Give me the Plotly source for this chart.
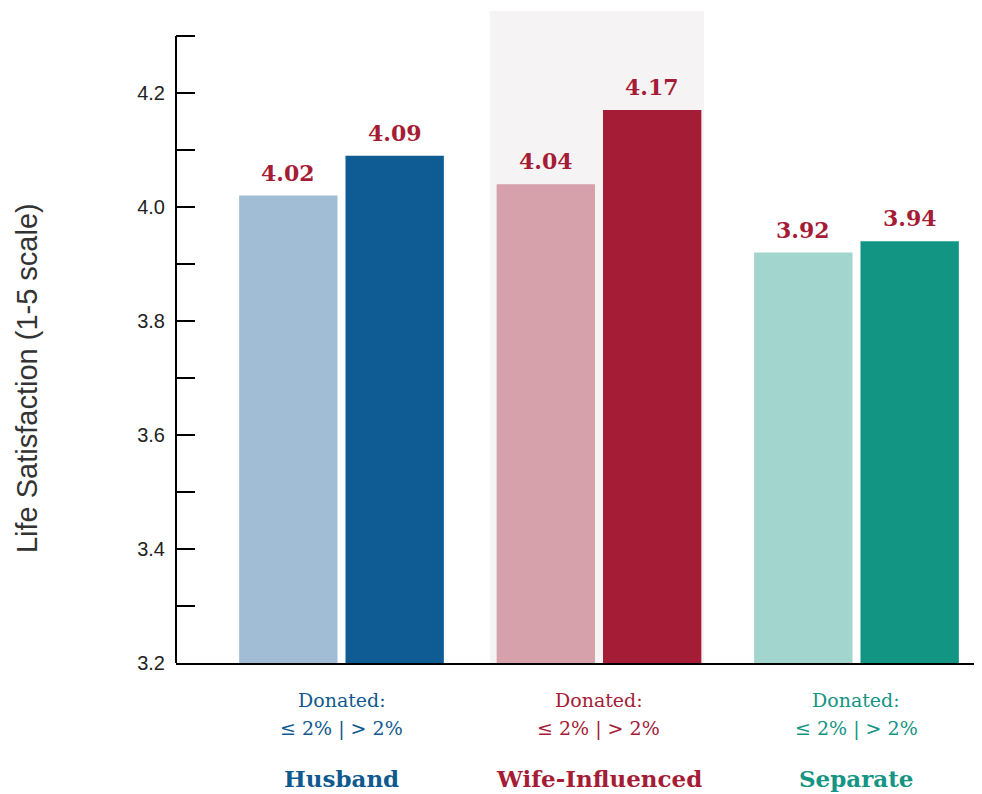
import plotly.graph_objects as go

categories = ["Husband", "Wife-Influenced", "Separate"]
low_values = [4.02, 4.04, 3.92]    # Donated <= 2%
high_values = [4.09, 4.17, 3.94]   # Donated > 2%
low_colors = ["#a1bdd5", "#d7a1ab", "#a2d5ce"]
high_colors = ["#0f5b94", "#a51c36", "#129683"]
text_colors = ["#10598f", "#a51c36", "#149483"]
value_color = "#a51c36"
y_tickvals = [3.2, 3.3, 3.4, 3.5, 3.6, 3.7, 3.8, 3.9, 4.0, 4.1, 4.2, 4.3]
y_ticktext = ["3.2", "", "3.4", "", "3.6", "", "3.8", "", "4.0", "", "4.2", ""]

xpos = list(range(len(categories)))
BW = 0.382
serif = "DejaVu Serif"

fig = go.Figure()
fig.add_trace(go.Bar(x=xpos, y=low_values, base=0, width=BW, offset=-BW - 0.0155,
                     marker=dict(color=low_colors, line=dict(width=0)), showlegend=False,
                     hoverinfo="skip"))
fig.add_trace(go.Bar(x=xpos, y=high_values, base=0, width=BW, offset=0.0155,
                     marker=dict(color=high_colors, line=dict(width=0)), showlegend=False,
                     hoverinfo="skip"))

annotations = []
for i, (lv, hv) in enumerate(zip(low_values, high_values)):
    annotations.append(dict(x=i - BW / 2 - 0.0155, y=lv, xref="x", yref="y", text=f"<b>{lv:.2f}</b>",
                            showarrow=False, yanchor="bottom", yshift=8,
                            font=dict(family=serif, size=22, color=value_color)))
    annotations.append(dict(x=i + BW / 2 + 0.0155, y=hv, xref="x", yref="y", text=f"<b>{hv:.2f}</b>",
                            showarrow=False, yanchor="bottom", yshift=8,
                            font=dict(family=serif, size=22, color=value_color)))
    annotations.append(dict(x=i, y=-0.0567, xref="x", yref="paper", text="Donated:",
                            showarrow=False, yanchor="middle",
                            font=dict(family=serif, size=19, color=text_colors[i])))
    annotations.append(dict(x=i, y=-0.0997, xref="x", yref="paper", text="≤ 2% | > 2%",
                            showarrow=False, yanchor="middle",
                            font=dict(family=serif, size=19, color=text_colors[i])))
    annotations.append(dict(x=i, y=-0.1764, xref="x", yref="paper", text=f"<b>{categories[i]}</b>",
                            showarrow=False, yanchor="middle",
                            font=dict(family=serif, size=23, color=text_colors[i])))

annotations.append(dict(x=-0.1849, y=0.437, xref="paper", yref="paper",
                        text="Life Satisfaction (1-5 scale)", textangle=-90, showarrow=False,
                        xanchor="center", yanchor="middle",
                        font=dict(family="Liberation Sans", size=29, color="#333333")))

shapes = [
    dict(type="rect", xref="x", yref="paper", x0=0.577, x1=1.408, y0=0, y1=1,
         fillcolor="#f6f3f4", line=dict(width=0), layer="below"),
    dict(type="line", xref="paper", yref="y", x0=0, x1=0, y0=3.2, y1=4.3,
         line=dict(color="black", width=2)),
]

fig.update_layout(
    width=974, height=786,
    margin=dict(l=168, r=0, t=3, b=131),
    paper_bgcolor="white", plot_bgcolor="rgba(0,0,0,0)",
    barmode="overlay",
    annotations=annotations, shapes=shapes,
    xaxis=dict(range=[-0.6427, 2.4874], showgrid=False, zeroline=False,
               showticklabels=False, ticks="", showline=True, linecolor="black", linewidth=2),
    yaxis=dict(range=[3.2, 3.2 + 652 / 570], showgrid=False, zeroline=False, showline=False,
               tickvals=y_tickvals, ticktext=y_ticktext, ticks="inside", ticklen=19,
               tickwidth=2, tickcolor="black", ticklabelstandoff=10,
               tickfont=dict(family="Liberation Sans", size=20, color="#222222")),
)

fig.write_html("out.html")
